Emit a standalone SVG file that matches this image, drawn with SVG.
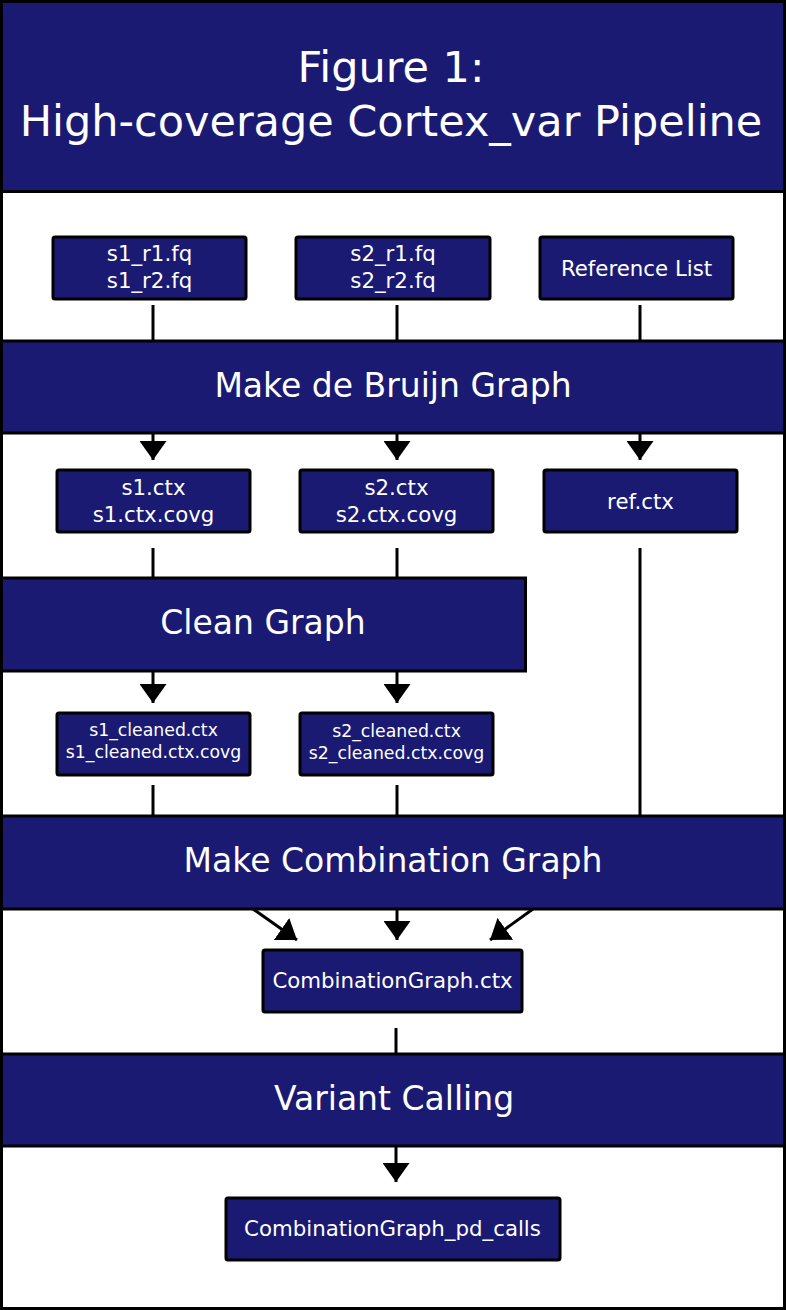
<svg xmlns="http://www.w3.org/2000/svg" width="786" height="1310" viewBox="0 0 786 1310">
<defs>
<style>
.band{fill:#1a1a72;stroke:#000;stroke-width:3}
.node{fill:#1a1a72;stroke:#000;stroke-width:3}
.t{fill:#fff;font-family:"DejaVu Sans",sans-serif;text-anchor:middle}
.title{font-size:43px}
.bt{font-size:33px}
.nt{font-size:21.3px}
.st{font-size:17.3px}
.c{stroke:#000;stroke-width:3;fill:none}
</style>
<marker id="ah" viewBox="0 0 19 27" refX="19" refY="13.5" markerWidth="19" markerHeight="27" markerUnits="userSpaceOnUse" orient="auto">
<path d="M0,0 L19,13.5 L0,27 z" fill="#000"/>
</marker>
</defs>
<rect x="1.5" y="1.5" width="783" height="1307" fill="#fff" stroke="#000" stroke-width="3"/>

<g id="connectors">
<line class="c" x1="153" y1="305" x2="153" y2="341"/>
<line class="c" x1="397" y1="305" x2="397" y2="341"/>
<line class="c" x1="640" y1="305" x2="640" y2="341"/>
<line class="c" x1="153" y1="433" x2="153" y2="460" marker-end="url(#ah)"/>
<line class="c" x1="397" y1="433" x2="397" y2="460" marker-end="url(#ah)"/>
<line class="c" x1="640" y1="433" x2="640" y2="460" marker-end="url(#ah)"/>
<line class="c" x1="153" y1="548" x2="153" y2="578"/>
<line class="c" x1="397" y1="548" x2="397" y2="578"/>
<line class="c" x1="640" y1="548" x2="640" y2="816"/>
<line class="c" x1="153" y1="671" x2="153" y2="703" marker-end="url(#ah)"/>
<line class="c" x1="397" y1="671" x2="397" y2="703" marker-end="url(#ah)"/>
<line class="c" x1="153" y1="785" x2="153" y2="816"/>
<line class="c" x1="397" y1="785" x2="397" y2="816"/>
<line class="c" x1="253" y1="909" x2="297" y2="940" marker-end="url(#ah)"/>
<line class="c" x1="397" y1="909" x2="397" y2="940" marker-end="url(#ah)"/>
<line class="c" x1="533" y1="909" x2="490" y2="940" marker-end="url(#ah)"/>
<line class="c" x1="396" y1="1028" x2="396" y2="1054"/>
<line class="c" x1="396" y1="1146" x2="396" y2="1182" marker-end="url(#ah)"/>
</g>

<g id="title">
<rect class="band" x="1.5" y="1.5" width="783" height="190"/>
<text class="t title" x="391" y="82">Figure 1:</text>
<text class="t title" x="391" y="136">High-coverage Cortex_var Pipeline</text>
</g>

<g id="s1_fq">
<rect class="node" x="53" y="237" width="193" height="62" rx="2"/>
<text class="t nt" x="149.5" y="261">s1_r1.fq</text>
<text class="t nt" x="149.5" y="288">s1_r2.fq</text>
</g>
<g id="s2_fq">
<rect class="node" x="296" y="237" width="194" height="62" rx="2"/>
<text class="t nt" x="393" y="261">s2_r1.fq</text>
<text class="t nt" x="393" y="288">s2_r2.fq</text>
</g>
<g id="ref_list">
<rect class="node" x="540" y="237" width="193" height="62" rx="2"/>
<text class="t nt" x="636.5" y="276">Reference List</text>
</g>

<g id="make_dbg">
<rect class="band" x="1.5" y="341" width="783" height="92"/>
<text class="t bt" x="393" y="397">Make de Bruijn Graph</text>
</g>

<g id="s1_ctx">
<rect class="node" x="57" y="470" width="193" height="62" rx="2"/>
<text class="t nt" x="153.5" y="495">s1.ctx</text>
<text class="t nt" x="153.5" y="522">s1.ctx.covg</text>
</g>
<g id="s2_ctx">
<rect class="node" x="300" y="470" width="193" height="62" rx="2"/>
<text class="t nt" x="396.5" y="495">s2.ctx</text>
<text class="t nt" x="396.5" y="522">s2.ctx.covg</text>
</g>
<g id="ref_ctx">
<rect class="node" x="544" y="470" width="193" height="62" rx="2"/>
<text class="t nt" x="640.5" y="509">ref.ctx</text>
</g>

<g id="clean_graph">
<rect class="band" x="1.5" y="578" width="524" height="93"/>
<text class="t bt" x="263" y="634">Clean Graph</text>
</g>

<g id="s1_cleaned">
<rect class="node" x="57" y="713" width="193" height="62" rx="2"/>
<text class="t st" x="153.5" y="736">s1_cleaned.ctx</text>
<text class="t st" x="153.5" y="758">s1_cleaned.ctx.covg</text>
</g>
<g id="s2_cleaned">
<rect class="node" x="300" y="713" width="193" height="62" rx="2"/>
<text class="t st" x="396.5" y="737">s2_cleaned.ctx</text>
<text class="t st" x="396.5" y="759">s2_cleaned.ctx.covg</text>
</g>

<g id="make_comb">
<rect class="band" x="1.5" y="816" width="783" height="93"/>
<text class="t bt" x="393" y="872">Make Combination Graph</text>
</g>

<g id="comb_ctx">
<rect class="node" x="263" y="950" width="259" height="62" rx="2"/>
<text class="t nt" x="392.5" y="988">CombinationGraph.ctx</text>
</g>

<g id="variant_calling">
<rect class="band" x="1.5" y="1054" width="783" height="92"/>
<text class="t bt" x="394" y="1110">Variant Calling</text>
</g>

<g id="pd_calls">
<rect class="node" x="226" y="1198" width="334" height="62" rx="2"/>
<text class="t nt" x="392.5" y="1236">CombinationGraph_pd_calls</text>
</g>
</svg>
